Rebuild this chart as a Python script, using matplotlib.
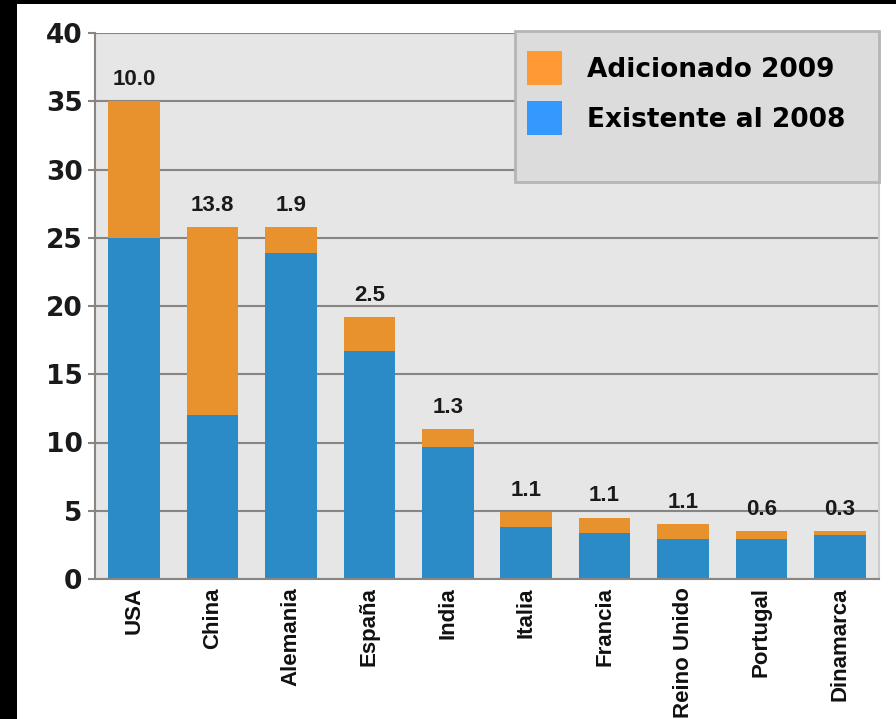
import matplotlib
matplotlib.use("Agg")
import matplotlib.pyplot as plt
from matplotlib.patches import Patch, Rectangle

# Wind capacity by country (GW)
countries = ["USA", "China", "Alemania", "España", "India",
             "Italia", "Francia", "Reino Unido", "Portugal", "Dinamarca"]
existing_2008 = [25.0, 12.0, 23.9, 16.7, 9.7, 3.8, 3.4, 2.9, 2.9, 3.2]
added_2009 = [10.0, 13.8, 1.9, 2.5, 1.3, 1.1, 1.1, 1.1, 0.6, 0.3]
added_labels = ["10.0", "13.8", "1.9", "2.5", "1.3", "1.1", "1.1", "1.1", "0.6", "0.3"]
y_ticks = [0, 5, 10, 15, 20, 25, 30, 35, 40]

BAR_BLUE = "#2b8bc6"
BAR_ORANGE = "#e8922e"
LEG_BLUE = "#3399ff"
LEG_ORANGE = "#ff9933"

SANS = ["Liberation Sans", "DejaVu Sans"]

fig = plt.figure(figsize=(8.96, 7.19), dpi=100)
fig.patch.set_facecolor("white")

# black frame strips on the left and top edges
fig.patches.append(Rectangle((0, 0), 17 / 896, 1, transform=fig.transFigure,
                             facecolor="black", edgecolor="none", zorder=0))
fig.patches.append(Rectangle((0, 1 - 4 / 719), 1, 4 / 719, transform=fig.transFigure,
                             facecolor="black", edgecolor="none", zorder=0))

ax = fig.add_axes([95 / 896, (719 - 579) / 719, (879 - 95) / 896, (579 - 33) / 719])
ax.set_facecolor("#e6e6e6")

x = range(len(countries))
width = 0.66
ax.bar(x, existing_2008, width=width, color=BAR_BLUE, zorder=2)
totals = [e + a for e, a in zip(existing_2008, added_2009)]
ax.bar(x, added_2009, width=width, bottom=existing_2008, color=BAR_ORANGE, zorder=2)

for xi, tot, lab in zip(x, totals, added_labels):
    ax.annotate(lab, (xi, tot), xytext=(0, 8), textcoords="offset points",
                ha="center", va="bottom", fontsize=16, fontweight="bold",
                family=SANS, color="#1a1a1a")

ax.set_xlim(-0.5, 9.5)
ax.set_ylim(0, 40)
ax.set_yticks(y_ticks)
ax.set_yticklabels([str(v) for v in y_ticks], fontsize=19, fontweight="bold",
                   family=["DejaVu Sans"], color="#1a1a1a")
ax.set_xticks(list(x))
ax.set_xticklabels(countries, rotation=90, fontsize=16, fontweight="bold",
                   family=SANS, color="#111111", va="top", ha="center")

ax.tick_params(axis="y", length=5, width=1.5, color="#8a8580", pad=4)
ax.tick_params(axis="x", length=0, pad=6)

ax.yaxis.grid(True, color="#8a8580", linewidth=1.5)
ax.set_axisbelow(True)

for side in ("left", "bottom"):
    ax.spines[side].set_color("#8a8580")
    ax.spines[side].set_linewidth(1.5)
ax.spines["top"].set_visible(False)
ax.spines["right"].set_color("#cccccc")
ax.spines["right"].set_linewidth(1.5)

# legend box
box_x0 = (515 - 95) / (879 - 95)
box_y0 = (579 - 182) / (579 - 33)
ax.add_patch(Rectangle((box_x0, box_y0), 1 - box_x0, 1 - box_y0 + 2 / 546,
                       transform=ax.transAxes, facecolor="#dcdcdc",
                       edgecolor="#b5b5b5", linewidth=2, zorder=4, clip_on=False))

handles = [Patch(facecolor=LEG_ORANGE, edgecolor="none", label="Adicionado 2009"),
           Patch(facecolor=LEG_BLUE, edgecolor="none", label="Existente al 2008")]
leg = ax.legend(handles=handles, loc="upper left",
                bbox_to_anchor=((527 - 95) / 784, (579 - 51) / 546),
                frameon=False, borderpad=0, borderaxespad=0,
                handlelength=1.32, handleheight=1.6, handletextpad=0.95,
                labelspacing=0.61,
                prop={"family": "DejaVu Sans", "weight": "bold", "size": 19})
leg.set_zorder(5)

fig.savefig("out.png", dpi=100, facecolor=fig.get_facecolor())
